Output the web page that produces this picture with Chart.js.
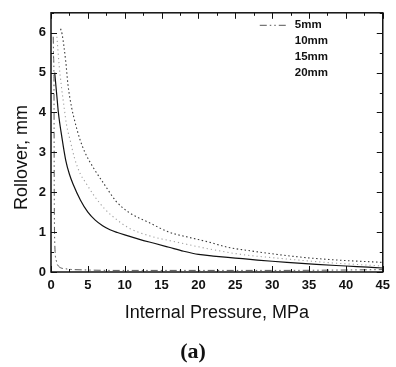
<!DOCTYPE html>
<html>
<head>
<meta charset="utf-8">
<script src="https://cdn.jsdelivr.net/npm/chart.js@4/dist/chart.umd.min.js"></script>
<style>
  html, body { margin: 0; padding: 0; background: #fff; }
  #wrap { width: 396px; height: 367px; position: relative; }
</style>
</head>
<body>
<div id="wrap"><canvas id="c" width="396" height="367"></canvas></div>
<script>
// ---- data ----
const seriesLabels = ['5mm', '10mm', '15mm', '20mm'];

const p5x  = [0.3, 0.35, 0.4, 0.42, 0.44, 0.5, 0.7, 1.0, 2.0, 5.0, 10, 20, 30, 40, 45];
const p5y  = [5.9, 5.4, 4.9, 3.5, 2.0, 0.8, 0.3, 0.15, 0.08, 0.05, 0.04, 0.04, 0.04, 0.05, 0.06];

const p10x = [0.5, 0.8, 1.0, 1.5, 2.0, 2.5, 3.0, 4.0, 5.0, 6.0, 7.0, 8.0, 9.0, 10, 12, 14, 16, 18, 20, 22, 25, 28, 30, 33, 36, 40, 43, 45];
const p10y = [5.0, 4.4, 4.0, 3.35, 2.8, 2.45, 2.2, 1.8, 1.5, 1.3, 1.16, 1.06, 0.99, 0.93, 0.82, 0.72, 0.62, 0.52, 0.44, 0.4, 0.35, 0.3, 0.27, 0.23, 0.19, 0.15, 0.12, 0.1];

const p15x = [0.8, 1.1, 1.4, 1.8, 2.1, 2.6, 3.2, 4.0, 4.6, 5.9, 7.3, 9.0, 10.6, 13.3, 17.3, 21.4, 25.8, 30, 33.5, 38.8, 45];
const p15y = [5.9, 5.2, 4.67, 4.1, 3.7, 3.3, 2.85, 2.45, 2.27, 1.9, 1.58, 1.3, 1.1, 0.91, 0.74, 0.58, 0.44, 0.36, 0.3, 0.22, 0.15];

const p20x = [1.3, 1.5, 2.0, 2.3, 2.8, 3.2, 3.9, 4.6, 5.9, 7.3, 8.8, 10.6, 13.3, 16, 18.7, 21.4, 24, 26.7, 33.5, 38.8, 44, 45];
const p20y = [6.1, 5.97, 5.28, 4.7, 4.12, 3.8, 3.34, 3.0, 2.57, 2.18, 1.78, 1.49, 1.24, 1.0, 0.87, 0.75, 0.62, 0.54, 0.38, 0.3, 0.25, 0.24];

const xTickValues = [0, 5, 10, 15, 20, 25, 30, 35, 40, 45];
const yTickValues = [0, 1, 2, 3, 4, 5, 6];

const xTitle = 'Internal Pressure, MPa';
const yTitle = 'Rollover, mm';
const caption = '(a)';

// ---- build datasets ----
function pts(xs, ys) { return xs.map((x, i) => ({ x: x, y: ys[i] })); }

const styles = [
  { color: '#555555', dash: [7, 3, 1.5, 3, 1.5, 3], width: 1 },
  { color: '#111111', dash: [], width: 1.2 },
  { color: '#a0a0a0', dash: [1.2, 3], width: 1.1 },
  { color: '#3a3a3a', dash: [1.5, 2.5], width: 1.1 }
];
const allData = [pts(p5x, p5y), pts(p10x, p10y), pts(p15x, p15y), pts(p20x, p20y)];

const datasets = seriesLabels.map((lab, i) => ({
  label: lab,
  data: allData[i],
  borderColor: styles[i].color,
  borderDash: styles[i].dash,
  borderWidth: styles[i].width,
  pointRadius: 0,
  fill: false,
  cubicInterpolationMode: 'monotone'
}));

const FONT = '"Liberation Sans", Arial, sans-serif';

// inward ticks on all four sides + frame + custom legend
const framePlugin = {
  id: 'frameTicks',
  afterDatasetsDraw(chart) {
    const { ctx, chartArea: a, scales } = chart;
    ctx.save();
    ctx.strokeStyle = '#111';
    ctx.lineWidth = 1;
    const xs = scales.x, ys = scales.y;
    xs.ticks.forEach(t => {
      const px = Math.round(xs.getPixelForValue(t.value)) + 0.5;
      const len = xTickValues.includes(t.value) ? 6 : 3;
      ctx.beginPath();
      ctx.moveTo(px, a.bottom); ctx.lineTo(px, a.bottom - len);
      ctx.moveTo(px, a.top); ctx.lineTo(px, a.top + len);
      ctx.stroke();
    });
    ys.ticks.forEach(t => {
      const py = Math.round(ys.getPixelForValue(t.value)) + 0.5;
      const len = yTickValues.includes(t.value) ? 6 : 3;
      ctx.beginPath();
      ctx.moveTo(a.left, py); ctx.lineTo(a.left + len, py);
      ctx.moveTo(a.right, py); ctx.lineTo(a.right - len, py);
      ctx.stroke();
    });
    ctx.lineWidth = 1.5;
    ctx.strokeRect(a.left, a.top, a.right - a.left, a.bottom - a.top);
    // legend
    const lx = a.right - 88, ly = a.top + 12.5, step = 15.9;
    chart.data.datasets.forEach((ds, i) => {
      const y = ly + i * step;
      if (i === 0) {
        ctx.beginPath();
        ctx.setLineDash(ds.borderDash);
        ctx.lineWidth = 1;
        ctx.strokeStyle = ds.borderColor;
        ctx.moveTo(lx - 35, y); ctx.lineTo(lx - 6, y);
        ctx.stroke();
        ctx.setLineDash([]);
      }
      ctx.fillStyle = '#111';
      ctx.font = 'bold 11.5px ' + FONT;
      ctx.textAlign = 'left';
      ctx.textBaseline = 'middle';
      ctx.fillText(ds.label, lx, y);
    });
    ctx.restore();
  }
};

new Chart(document.getElementById('c'), {
  type: 'line',
  data: { datasets: datasets },
  options: {
    responsive: false,
    animation: false,
    layout: { padding: { left: 0, right: 10, top: 9, bottom: 0 } },
    plugins: {
      legend: { display: false },
      tooltip: { enabled: false },
      title: {
        display: true,
        position: 'bottom',
        text: caption,
        color: '#111',
        font: { family: '"Liberation Serif", "Times New Roman", serif', size: 22, weight: 'bold' },
        padding: { top: 6, bottom: 1 }
      }
    },
    scales: {
      x: {
        type: 'linear',
        min: 0, max: 45,
        grid: { display: false, drawTicks: false },
        border: { display: false },
        ticks: {
          stepSize: 2.5,
          autoSkip: false,
          maxRotation: 0,
          padding: 6,
          color: '#111',
          font: { family: FONT, size: 13, weight: 'bold' },
          callback: v => (xTickValues.includes(v) ? String(v) : '')
        },
        title: {
          display: true,
          text: xTitle,
          color: '#111',
          font: { family: FONT, size: 18 },
          padding: { top: 0, bottom: 9.8 }
        },
        afterFit: s => { s.height = 61.6; }
      },
      y: {
        type: 'linear',
        min: 0, max: 6.5,
        grid: { display: false, drawTicks: false },
        border: { display: false },
        ticks: {
          stepSize: 0.5,
          autoSkip: false,
          padding: 5,
          color: '#111',
          font: { family: FONT, size: 13, weight: 'bold' },
          callback: v => (yTickValues.includes(v) ? String(v) : '')
        },
        title: {
          display: true,
          text: yTitle + '      ',
          color: '#111',
          font: { family: FONT, size: 18 },
          padding: { top: 11, bottom: 0 }
        },
        afterFit: s => { s.width = 51; }
      }
    }
  },
  plugins: [framePlugin]
});
</script>
</body>
</html>
